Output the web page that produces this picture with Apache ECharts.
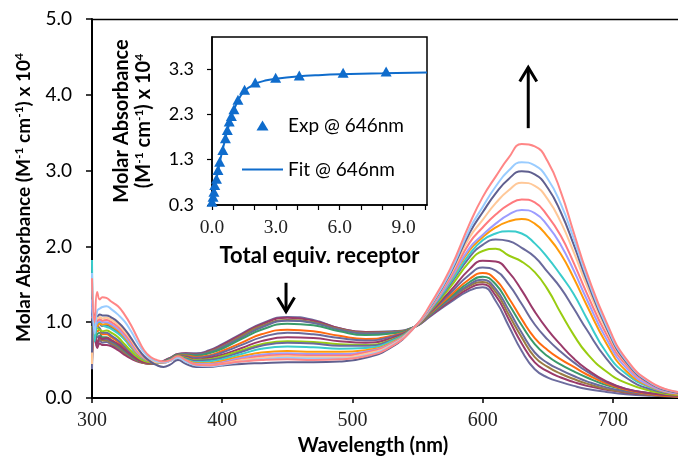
<!DOCTYPE html>
<html>
<head>
<meta charset="utf-8">
<script src="https://cdn.jsdelivr.net/npm/echarts@6/dist/echarts.min.js"></script>
<style>
  html, body { margin: 0; padding: 0; background: #ffffff; }
  #chart { width: 678px; height: 461px; }
</style>
</head>
<body>
<div id="chart"></div>
<script>
// ---- Titration spectra: wavelength grid (nm) and molar absorbance (x 10^4) ----
const wavelengths = [300, 302, 304, 306, 308, 311, 315, 320, 325, 330, 335, 340, 345, 350, 355, 360, 366, 372, 380, 390, 400, 415, 430, 450, 470, 490, 510, 530, 548, 560, 575, 590, 600, 610, 620, 630, 640, 650, 660, 670, 680, 695, 710, 730, 750];

const spectrum00 = [0.38, 0.80, 0.68, 0.76, 0.73, 0.74, 0.70, 0.65, 0.59, 0.53, 0.49, 0.46, 0.45, 0.46, 0.49, 0.53, 0.58, 0.59, 0.59, 0.63, 0.71, 0.85, 0.98, 1.07, 1.03, 0.92, 0.87, 0.88, 0.94, 1.08, 1.26, 1.42, 1.46, 1.28, 0.95, 0.62, 0.38, 0.27, 0.21, 0.16, 0.12, 0.08, 0.05, 0.03, 0.02];
const spectrum01 = [0.62, 0.92, 0.66, 0.72, 0.70, 0.70, 0.68, 0.63, 0.57, 0.52, 0.48, 0.46, 0.45, 0.46, 0.49, 0.53, 0.58, 0.59, 0.58, 0.62, 0.70, 0.84, 0.97, 1.06, 1.02, 0.92, 0.87, 0.87, 0.94, 1.09, 1.28, 1.45, 1.50, 1.35, 1.04, 0.72, 0.47, 0.35, 0.27, 0.21, 0.16, 0.11, 0.07, 0.04, 0.02];
const spectrum02 = [0.70, 0.88, 0.74, 0.78, 0.76, 0.76, 0.72, 0.67, 0.60, 0.54, 0.49, 0.46, 0.45, 0.46, 0.48, 0.52, 0.57, 0.58, 0.57, 0.61, 0.68, 0.82, 0.95, 1.03, 1.00, 0.91, 0.86, 0.87, 0.94, 1.10, 1.30, 1.48, 1.53, 1.40, 1.10, 0.80, 0.54, 0.41, 0.32, 0.25, 0.19, 0.12, 0.08, 0.04, 0.02];
const spectrum03 = [0.85, 1.05, 0.80, 0.82, 0.78, 0.78, 0.74, 0.69, 0.62, 0.55, 0.50, 0.47, 0.46, 0.46, 0.48, 0.52, 0.57, 0.58, 0.57, 0.60, 0.67, 0.80, 0.93, 1.02, 0.99, 0.90, 0.85, 0.86, 0.94, 1.10, 1.31, 1.50, 1.56, 1.44, 1.16, 0.86, 0.60, 0.46, 0.37, 0.29, 0.22, 0.14, 0.09, 0.05, 0.03];
const spectrum04 = [0.90, 0.75, 0.84, 0.86, 0.80, 0.80, 0.76, 0.70, 0.63, 0.56, 0.50, 0.47, 0.46, 0.46, 0.48, 0.52, 0.57, 0.57, 0.56, 0.59, 0.65, 0.78, 0.90, 0.98, 0.96, 0.88, 0.83, 0.85, 0.94, 1.11, 1.33, 1.53, 1.60, 1.50, 1.24, 0.96, 0.71, 0.55, 0.44, 0.35, 0.27, 0.17, 0.11, 0.06, 0.03];
const spectrum05 = [0.45, 1.00, 0.88, 0.90, 0.84, 0.84, 0.80, 0.74, 0.66, 0.58, 0.51, 0.47, 0.46, 0.46, 0.47, 0.51, 0.56, 0.56, 0.54, 0.56, 0.62, 0.73, 0.84, 0.90, 0.88, 0.82, 0.78, 0.82, 0.94, 1.12, 1.35, 1.57, 1.65, 1.56, 1.32, 1.04, 0.79, 0.63, 0.51, 0.41, 0.31, 0.19, 0.11, 0.05, 0.02];
const spectrum06 = [1.10, 0.80, 0.95, 0.92, 0.86, 0.86, 0.82, 0.76, 0.68, 0.59, 0.52, 0.48, 0.46, 0.46, 0.47, 0.51, 0.56, 0.55, 0.53, 0.55, 0.60, 0.70, 0.80, 0.86, 0.84, 0.79, 0.76, 0.81, 0.94, 1.13, 1.38, 1.63, 1.72, 1.68, 1.50, 1.24, 0.97, 0.77, 0.61, 0.47, 0.35, 0.21, 0.12, 0.06, 0.03];
const spectrum07 = [0.60, 0.85, 0.72, 0.80, 0.78, 0.79, 0.76, 0.71, 0.64, 0.57, 0.51, 0.47, 0.46, 0.46, 0.47, 0.50, 0.55, 0.54, 0.51, 0.53, 0.57, 0.66, 0.75, 0.80, 0.79, 0.75, 0.73, 0.79, 0.94, 1.14, 1.41, 1.70, 1.81, 1.80, 1.66, 1.42, 1.14, 0.90, 0.70, 0.52, 0.38, 0.22, 0.12, 0.06, 0.03];
const spectrum08 = [0.95, 0.80, 0.92, 0.90, 0.88, 0.89, 0.86, 0.80, 0.71, 0.62, 0.54, 0.49, 0.47, 0.46, 0.47, 0.50, 0.55, 0.53, 0.50, 0.51, 0.55, 0.63, 0.71, 0.75, 0.74, 0.71, 0.70, 0.77, 0.94, 1.15, 1.46, 1.80, 1.94, 1.97, 1.88, 1.80, 1.66, 1.43, 1.12, 0.83, 0.59, 0.35, 0.20, 0.09, 0.04];
const spectrum09 = [1.20, 0.95, 1.02, 0.98, 0.95, 0.96, 0.93, 0.87, 0.78, 0.67, 0.57, 0.51, 0.48, 0.47, 0.47, 0.50, 0.54, 0.52, 0.49, 0.50, 0.53, 0.61, 0.69, 0.73, 0.72, 0.69, 0.69, 0.76, 0.94, 1.16, 1.50, 1.86, 2.02, 2.09, 2.07, 1.98, 1.86, 1.66, 1.45, 1.18, 0.90, 0.52, 0.27, 0.11, 0.05];
const spectrum10 = [1.82, 0.75, 0.98, 1.00, 0.96, 0.94, 0.91, 0.85, 0.77, 0.67, 0.57, 0.51, 0.48, 0.47, 0.47, 0.50, 0.54, 0.51, 0.47, 0.48, 0.51, 0.58, 0.65, 0.68, 0.67, 0.65, 0.66, 0.75, 0.94, 1.17, 1.52, 1.90, 2.08, 2.17, 2.20, 2.17, 2.04, 1.85, 1.62, 1.37, 1.05, 0.60, 0.32, 0.13, 0.06];
const spectrum11 = [0.75, 1.00, 0.95, 0.98, 0.97, 0.98, 0.95, 0.89, 0.80, 0.69, 0.58, 0.52, 0.48, 0.47, 0.47, 0.49, 0.53, 0.50, 0.46, 0.46, 0.49, 0.55, 0.60, 0.62, 0.61, 0.61, 0.63, 0.73, 0.94, 1.18, 1.55, 1.95, 2.12, 2.25, 2.33, 2.36, 2.30, 2.13, 1.90, 1.58, 1.22, 0.72, 0.36, 0.14, 0.05];
const spectrum12 = [1.30, 0.90, 1.00, 1.02, 1.00, 1.00, 0.97, 0.91, 0.82, 0.71, 0.60, 0.53, 0.49, 0.47, 0.47, 0.49, 0.53, 0.49, 0.45, 0.45, 0.47, 0.53, 0.57, 0.59, 0.58, 0.58, 0.61, 0.72, 0.94, 1.18, 1.56, 1.98, 2.15, 2.30, 2.42, 2.48, 2.44, 2.27, 2.02, 1.68, 1.30, 0.78, 0.40, 0.15, 0.06];
const spectrum13 = [1.05, 1.10, 1.02, 1.04, 1.02, 1.03, 1.00, 0.94, 0.85, 0.74, 0.62, 0.54, 0.49, 0.47, 0.47, 0.49, 0.53, 0.49, 0.44, 0.44, 0.46, 0.51, 0.55, 0.57, 0.56, 0.56, 0.60, 0.71, 0.94, 1.19, 1.59, 2.05, 2.25, 2.42, 2.55, 2.62, 2.58, 2.40, 2.14, 1.78, 1.38, 0.84, 0.44, 0.17, 0.07];
const spectrum14 = [0.45, 1.12, 1.05, 1.07, 1.05, 1.06, 1.03, 0.97, 0.88, 0.77, 0.64, 0.55, 0.50, 0.47, 0.47, 0.49, 0.53, 0.48, 0.43, 0.43, 0.45, 0.50, 0.53, 0.55, 0.54, 0.54, 0.58, 0.70, 0.94, 1.20, 1.62, 2.12, 2.35, 2.57, 2.74, 2.84, 2.80, 2.62, 2.32, 1.92, 1.48, 0.90, 0.47, 0.18, 0.07];
const spectrum15 = [0.60, 1.10, 1.08, 1.10, 1.09, 1.09, 1.06, 1.00, 0.91, 0.79, 0.66, 0.55, 0.48, 0.43, 0.41, 0.44, 0.50, 0.45, 0.41, 0.41, 0.43, 0.45, 0.46, 0.47, 0.47, 0.48, 0.53, 0.67, 0.94, 1.21, 1.64, 2.18, 2.45, 2.70, 2.89, 2.99, 2.95, 2.77, 2.45, 2.02, 1.55, 0.93, 0.48, 0.18, 0.07];
const spectrum16 = [1.65, 0.85, 1.15, 1.18, 1.20, 1.21, 1.17, 1.10, 1.01, 0.88, 0.73, 0.60, 0.52, 0.48, 0.47, 0.49, 0.53, 0.48, 0.43, 0.42, 0.44, 0.48, 0.51, 0.53, 0.52, 0.52, 0.56, 0.69, 0.94, 1.22, 1.66, 2.23, 2.52, 2.79, 3.00, 3.11, 3.07, 2.89, 2.56, 2.10, 1.60, 0.96, 0.50, 0.19, 0.08];
const spectrum17 = [1.58, 1.00, 1.40, 1.30, 1.33, 1.32, 1.27, 1.21, 1.10, 0.96, 0.79, 0.63, 0.54, 0.50, 0.48, 0.50, 0.55, 0.50, 0.44, 0.43, 0.45, 0.48, 0.50, 0.51, 0.50, 0.51, 0.55, 0.68, 0.94, 1.24, 1.70, 2.30, 2.65, 2.92, 3.17, 3.35, 3.32, 3.12, 2.72, 2.18, 1.65, 1.00, 0.52, 0.20, 0.08];

const spectra = [spectrum00, spectrum01, spectrum02, spectrum03, spectrum04, spectrum05, spectrum06, spectrum07, spectrum08,
                 spectrum09, spectrum10, spectrum11, spectrum12, spectrum13, spectrum14, spectrum15, spectrum16, spectrum17];

// ---- Binding isotherm at 646 nm ----
const equivExp = [0.0, 0.05, 0.09, 0.13, 0.21, 0.28, 0.36, 0.51, 0.63, 0.72, 0.81, 0.91, 1.03, 1.22, 1.53, 2.03, 2.99, 4.10, 6.16, 8.18];
const absExp   = [0.37, 0.48, 0.59, 0.74, 0.88, 1.07, 1.25, 1.51, 1.77, 1.95, 2.14, 2.26, 2.41, 2.62, 2.84, 3.00, 3.10, 3.15, 3.21, 3.24];
const equivFit = [0.0, 0.1, 0.2, 0.3, 0.4, 0.5, 0.6, 0.7, 0.8, 0.9, 1.0, 1.2, 1.5, 2.0, 2.5, 3.0, 4.0, 5.0, 6.0, 8.0, 10.1];
const absFit   = [0.33, 0.58, 0.84, 1.09, 1.32, 1.52, 1.71, 1.90, 2.07, 2.22, 2.35, 2.58, 2.80, 2.96, 3.04, 3.08, 3.13, 3.16, 3.18, 3.20, 3.22];

// ---- Tick labels ----
const wavelengthTicks = [300, 400, 500, 600, 700];
const absTicks = [0, 1, 2, 3, 4, 5];
const insetAbsTicks = [0.3, 1.3, 2.3, 3.3];
const insetEquivLabels = [0, 3, 6, 9];
const insetEquivTicks = [0, 1, 2, 3, 4, 5, 6, 7, 8, 9, 10];

// Arrow annotations, in (wavelength, absorbance) units
const arrowDown = { x: 449, from: 1.52, to: 1.14 };
const arrowUp = { x: 635, from: 3.56, to: 4.36 };

const spectrumColors = ['#6c6c9e', '#9a3a6a', '#9a7c42', '#6a6a9c', '#3a9a6a', '#ff6a10', '#6a6a9c', '#9a3a6a', '#99cc11',
                        '#6a6a9c', '#3acccc', '#ff9a0a', '#9c9cff', '#ff7a7e', '#ffc898', '#5f5f8f', '#99ccff', '#ff8686'];

const sans = 'Lato, "Open Sans", sans-serif';
const serif = '"Liberation Serif", "DejaVu Serif", serif';
const blue = '#0f6ccc';

const chart = echarts.init(document.getElementById('chart'), null, { renderer: 'canvas' });

const spectrumSeries = spectra.map((vals, i) => ({
  type: 'line',
  xAxisIndex: 0,
  yAxisIndex: 0,
  data: wavelengths.map((w, k) => [w, vals[k]]),
  showSymbol: false,
  symbol: 'none',
  smooth: 0.5,
  lineStyle: { color: spectrumColors[i], width: 2 },
  silent: true,
  z: 2
}));

// Rich-text styles for axis titles with superscripts
function titleRich(size) {
  return {
    b: { fontFamily: sans, fontWeight: 'bold', fontSize: size, lineHeight: 22, color: '#000' },
    s: { fontFamily: sans, fontWeight: 'bold', fontSize: Math.round(size * 0.62), lineHeight: 12, verticalAlign: 'top', color: '#000' }
  };
}

chart.setOption({
  animation: false,
  backgroundColor: '#ffffff',
  grid: [
    { left: 92, top: 19, width: 587, height: 379, containLabel: false },
    { left: 212, top: 37, width: 215, height: 168, show: true, backgroundColor: '#ffffff',
      borderColor: '#000', borderWidth: 1.5, z: 5 }
  ],
  legend: {
    data: [
      { name: 'Exp @ 646nm', icon: 'path://M0,10L6,0L12,10Z' },
      { name: 'Fit @ 646nm', icon: 'path://M0,0L41,0L41,2L0,2Z' }
    ],
    orient: 'vertical',
    left: 237,
    top: 111,
    itemWidth: 41,
    itemHeight: 10,
    itemGap: 25,
    symbolKeepAspect: true,
    selectedMode: false,
    textStyle: { fontFamily: sans, fontSize: 19, color: '#000' },
    z: 10
  },
  xAxis: [
    {
      type: 'value', gridIndex: 0, min: 300, max: 750,
      name: 'Wavelength (nm)', nameLocation: 'middle', nameGap: 37,
      nameTextStyle: { fontFamily: sans, fontWeight: 'bold', fontSize: 20, color: '#000', padding: [0, 24, 0, 0] },
      axisLine: { lineStyle: { color: '#000', width: 2 } },
      axisTick: { show: true, length: 5, customValues: wavelengthTicks, lineStyle: { color: '#000', width: 1.5 } },
      axisLabel: { customValues: wavelengthTicks, margin: 13, fontFamily: serif, fontSize: 20, color: '#222' },
      splitLine: { show: false }
    },
    {
      type: 'value', gridIndex: 0, min: 300, max: 750, position: 'top',
      axisLine: { lineStyle: { color: '#000', width: 1.3 } },
      axisTick: { show: false }, axisLabel: { show: false }, splitLine: { show: false }
    },
    {
      type: 'value', gridIndex: 1, min: 0, max: 10.1,
      name: 'Total equiv. receptor', nameLocation: 'middle', nameGap: 40,
      nameTextStyle: { fontFamily: sans, fontWeight: 'bold', fontSize: 22, color: '#000' },
      axisLine: { onZero: false, lineStyle: { color: '#000', width: 1.5 } },
      axisTick: { show: true, length: 5, customValues: insetEquivTicks, lineStyle: { color: '#000', width: 1.2 } },
      axisLabel: { customValues: insetEquivLabels, margin: 13, fontFamily: serif, fontSize: 19.5, color: '#222',
                   formatter: v => v.toFixed(1) },
      splitLine: { show: false },
      z: 6
    }
  ],
  yAxis: [
    {
      type: 'value', gridIndex: 0, min: 0, max: 5,
      name: '{b|Molar Absorbance (M}{s|-1}{b| cm}{s|-1}{b|) x 10}{s|4}',
      nameLocation: 'middle', nameRotate: 90, nameGap: 57,
      nameTextStyle: { rich: titleRich(19), padding: [0, 0, 0, 22] },
      axisLine: { show: true, lineStyle: { color: '#000', width: 2 } },
      axisTick: { show: true, length: 6, customValues: absTicks, lineStyle: { color: '#000', width: 1.5 } },
      axisLabel: { customValues: absTicks, margin: 20, fontFamily: sans, fontSize: 19, color: '#000',
                   formatter: v => v.toFixed(1) },
      splitLine: { show: false }
    },
    {
      type: 'value', gridIndex: 1, min: 0.3, max: 4.0,
      name: '{b|Molar Absorbance}\n{b|(M}{s|-1}{b| cm}{s|-1}{b|) x 10}{s|4}',
      nameLocation: 'middle', nameRotate: 90, nameGap: 57,
      nameTextStyle: { rich: titleRich(20), align: 'center' },
      axisLine: { show: true, onZero: false, lineStyle: { color: '#000', width: 1.5 } },
      axisTick: { show: true, length: 5, customValues: insetAbsTicks, lineStyle: { color: '#000', width: 1.2 } },
      axisLabel: { customValues: insetAbsTicks, margin: 18, fontFamily: sans, fontSize: 18, color: '#000',
                   formatter: v => v.toFixed(1) },
      splitLine: { show: false },
      z: 6
    }
  ],
  series: spectrumSeries.concat([
    {
      name: 'Fit @ 646nm', type: 'line', xAxisIndex: 2, yAxisIndex: 1,
      data: equivFit.map((x, k) => [x, absFit[k]]),
      symbol: 'none', smooth: 0.4,
      lineStyle: { color: blue, width: 2 }, itemStyle: { color: blue },
      z: 7
    },
    {
      name: 'Exp @ 646nm', type: 'scatter', xAxisIndex: 2, yAxisIndex: 1,
      data: equivExp.map((x, k) => [x, absExp[k]]),
      symbol: 'triangle', symbolSize: [11, 10],
      itemStyle: { color: blue, opacity: 1 },
      z: 8
    }
  ])
});

// Arrows marking the direction of change in the two bands
function arrowGraphics(a, pointsUp) {
  const p0 = chart.convertToPixel({ xAxisIndex: 0, yAxisIndex: 0 }, [a.x, a.from]);
  const p1 = chart.convertToPixel({ xAxisIndex: 0, yAxisIndex: 0 }, [a.x, a.to]);
  const tipY = p1[1];
  const headDir = pointsUp ? 1 : -1;
  return [
    { type: 'line', shape: { x1: p0[0], y1: p0[1], x2: p1[0], y2: tipY },
      style: { stroke: '#000', lineWidth: 3 }, z: 20 },
    { type: 'polyline', shape: { points: [[p1[0] - 8.5, tipY + headDir * 14], [p1[0], tipY], [p1[0] + 8.5, tipY + headDir * 14]] },
      style: { stroke: '#000', lineWidth: 3, fill: null, lineJoin: 'miter' }, z: 20 }
  ];
}

chart.setOption({
  graphic: arrowGraphics(arrowDown, false).concat(arrowGraphics(arrowUp, true))
});
</script>
</body>
</html>
